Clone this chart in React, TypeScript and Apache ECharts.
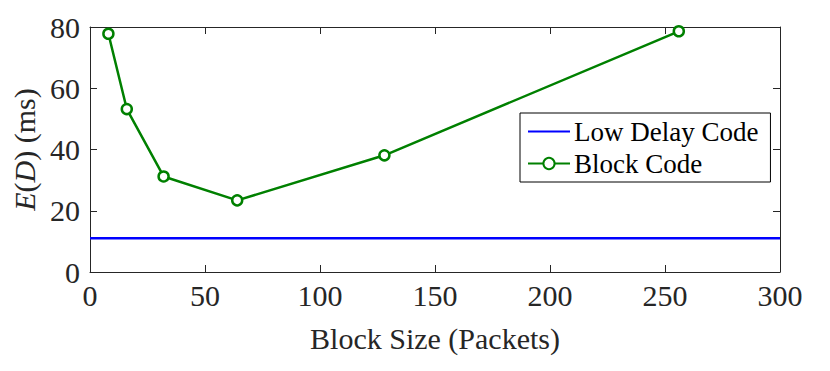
import React, { useEffect, useRef } from "react";
import * as echarts from "echarts";

const blockSizes = [8, 16, 32, 64, 128, 256];
const blockDelay = [77.8, 53.2, 31.2, 23.4, 38.1, 78.6];
const lowDelayX = [0, 300];
const lowDelayY = [11.0, 11.0];
const xTicks = [0, 50, 100, 150, 200, 250, 300];
const yTicks = [0, 20, 40, 60, 80];

const FONT = "Liberation Serif";
const AX = "#262626";

export default function App() {
  const ref = useRef<HTMLDivElement>(null);
  useEffect(() => {
    const chart = echarts.init(ref.current!, null, { renderer: "svg" });
    const common = {
      min: 0,
      splitLine: { show: false },
      axisLine: { show: true, onZero: false, lineStyle: { color: AX, width: 1 } },
      axisTick: { show: true, inside: true, length: 7, lineStyle: { color: AX } },
    };
    chart.setOption({
      animation: false,
      backgroundColor: "#fff",
      grid: { left: 90, right: 50, top: 27, bottom: 99 },
      legend: {
        left: 520,
        top: 113,
        orient: "vertical",
        backgroundColor: "#fff",
        borderColor: "#000",
        borderWidth: 1,
        borderRadius: 0,
        padding: [5, 12, 5, 7],
        itemWidth: 42,
        itemHeight: 14,
        itemGap: 5,
        textStyle: { fontFamily: FONT, fontSize: 27, color: "#000", padding: [0, 0, 0, -1] },
        data: [
          { name: "Low Delay Code", itemStyle: { opacity: 0 } },
          { name: "Block Code" },
        ],
      },
      xAxis: [
        {
          ...common,
          type: "value",
          max: 300,
          interval: 50,
          position: "bottom",
          axisLabel: {
            color: AX,
            fontFamily: FONT,
            fontSize: 30,
            margin: 8,
            formatter: (v: number) => (xTicks.includes(v) ? String(v) : ""),
          },
          name: "Block Size (Packets)",
          nameLocation: "middle",
          nameGap: 51,
          nameTextStyle: { color: AX, fontFamily: FONT, fontSize: 30 },
        },
        {
          ...common,
          type: "value",
          max: 300,
          interval: 50,
          position: "top",
          axisLabel: { show: false },
        },
      ],
      yAxis: [
        {
          ...common,
          type: "value",
          max: 80,
          interval: 20,
          position: "left",
          axisLabel: {
            color: AX,
            fontFamily: FONT,
            fontSize: 30,
            margin: 10,
            formatter: (v: number) => (yTicks.includes(v) ? String(v) : ""),
          },
          name: "{i|E}({i|D}) (ms)",
          nameLocation: "middle",
          nameGap: 47,
          nameRotate: 90,
          nameTextStyle: {
            color: AX,
            fontFamily: FONT,
            fontSize: 30,
            rich: { i: { fontFamily: FONT, fontStyle: "italic", fontSize: 30, color: AX } },
          },
        },
        {
          ...common,
          type: "value",
          max: 80,
          interval: 20,
          position: "right",
          axisLabel: { show: false },
        },
      ],
      series: [
        {
          name: "Low Delay Code",
          type: "line",
          data: lowDelayX.map((x, i) => [x, lowDelayY[i]]),
          showSymbol: false,
          symbol: "none",
          lineStyle: { color: "#0000ff", width: 2.5 },
          itemStyle: { color: "#0000ff" },
        },
        {
          name: "Block Code",
          type: "line",
          data: blockSizes.map((x, i) => [x, blockDelay[i]]),
          symbol: "circle",
          symbolSize: 10,
          lineStyle: { color: "#008000", width: 2.5 },
          itemStyle: { color: "#fff", borderColor: "#008000", borderWidth: 2.5 },
        },
      ],
    });
    return () => chart.dispose();
  }, []);
  return <div ref={ref} style={{ width: 830, height: 371, position: "absolute", left: 0, top: 0 }} />;
}
